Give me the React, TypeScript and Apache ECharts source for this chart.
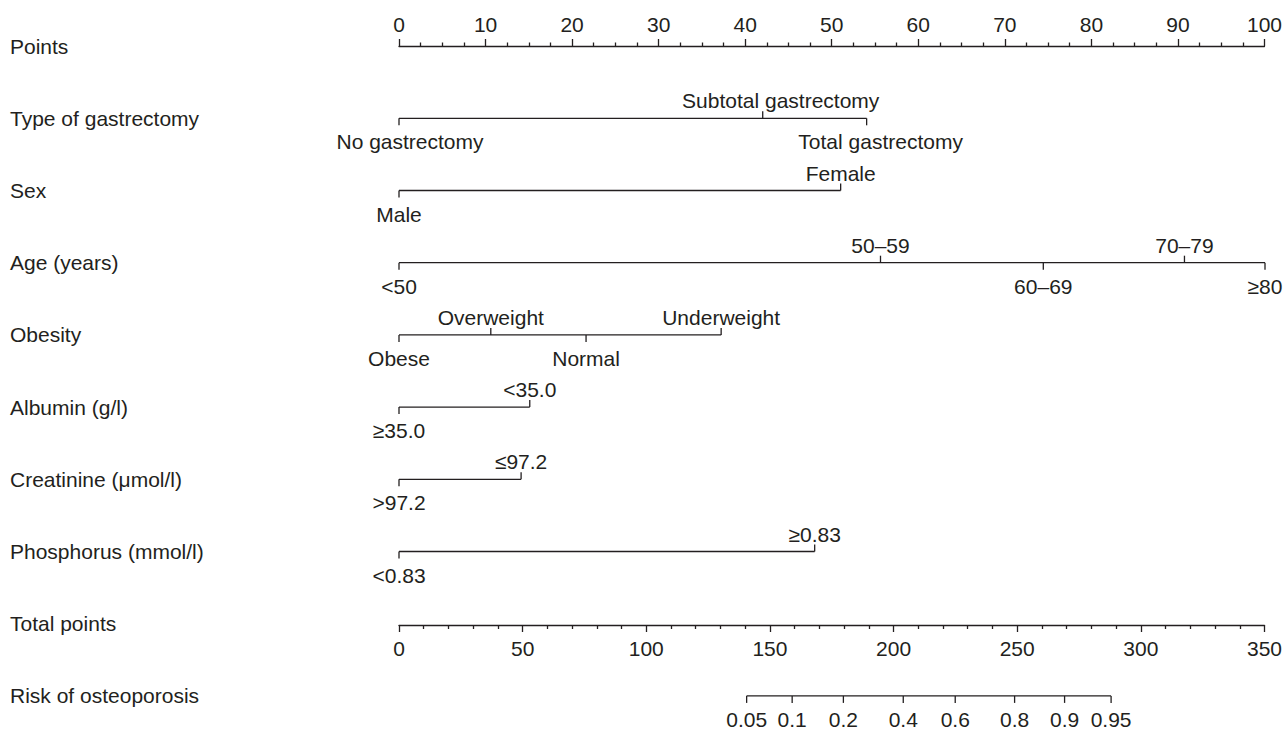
import React, { useEffect, useRef } from "react";
import * as echarts from "echarts";

// Row titles, top to bottom
const rowNames = [
  "Points",
  "Type of gastrectomy",
  "Sex",
  "Age (years)",
  "Obesity",
  "Albumin (g/l)",
  "Creatinine (μmol/l)",
  "Phosphorus (mmol/l)",
  "Total points",
  "Risk of osteoporosis",
];

// Predictor levels and the points each level contributes
const gastrectomyLevels = ["No gastrectomy", "Subtotal gastrectomy", "Total gastrectomy"];
const gastrectomyPoints = [0, 42, 54];
const sexLevels = ["Male", "Female"];
const sexPoints = [0, 51];
const ageLevels = ["<50", "50–59", "60–69", "70–79", "≥80"];
const agePoints = [0, 55.6, 74.4, 90.7, 100];
const obesityLevels = ["Obese", "Overweight", "Normal", "Underweight"];
const obesityPoints = [0, 10.6, 21.6, 37.2];
const albuminLevels = ["≥35.0", "<35.0"];
const albuminPoints = [0, 15.1];
const creatinineLevels = [">97.2", "≤97.2"];
const creatininePoints = [0, 14.1];
const phosphorusLevels = ["<0.83", "≥0.83"];
const phosphorusPoints = [0, 48.0];

// Risk scale: probability labels and where they sit on the total-points scale
const riskLabels = ["0.05", "0.1", "0.2", "0.4", "0.6", "0.8", "0.9", "0.95"];
const riskTotalPoints = [140.5, 158.9, 179.6, 203.8, 224.8, 248.8, 269.0, 287.8];

// Axis ranges
const pointsMax = 100;
const totalPointsMax = 350;

const FONT = '"Liberation Sans", Arial, Helvetica, sans-serif';
const INK = "#231f20";
const FONT_SIZE = 21;
const TICK = 7;

// horizontal nudges for a few level labels (px)
const labelNudge: Record<string, number> = {
  "No gastrectomy": 11,
  "Subtotal gastrectomy": 18,
  "Total gastrectomy": 14,
};

const predictors: { row: number; levels: string[]; pts: number[] }[] = [
  { row: 1, levels: gastrectomyLevels, pts: gastrectomyPoints },
  { row: 2, levels: sexLevels, pts: sexPoints },
  { row: 3, levels: ageLevels, pts: agePoints },
  { row: 4, levels: obesityLevels, pts: obesityPoints },
  { row: 5, levels: albuminLevels, pts: albuminPoints },
  { row: 6, levels: creatinineLevels, pts: creatininePoints },
  { row: 7, levels: phosphorusLevels, pts: phosphorusPoints },
];

type LevelItem = { value: [number, number, number]; label: string };

// labels alternate below / above along each row, starting below
const levelItems: LevelItem[] = [];
const segmentItems: [number, number, number][] = [];
predictors.forEach((p) => {
  const order = p.pts.map((v, i) => i).sort((a, b) => p.pts[a] - p.pts[b]);
  order.forEach((idx, k) => {
    levelItems.push({ value: [p.pts[idx], p.row, k % 2 === 0 ? -1 : 1], label: p.levels[idx] });
  });
  segmentItems.push([Math.min(...p.pts), Math.max(...p.pts), p.row]);
});

const riskItems: LevelItem[] = riskTotalPoints.map((v, i) => ({
  value: [v, 9, -1],
  label: riskLabels[i],
}));
const riskSegment: [number, number, number][] = [
  [Math.min(...riskTotalPoints), Math.max(...riskTotalPoints), 9],
];

function renderSegment(_params: any, api: any) {
  const a = api.coord([api.value(0), api.value(2)]);
  const b = api.coord([api.value(1), api.value(2)]);
  return {
    type: "line",
    shape: { x1: a[0], y1: a[1], x2: b[0], y2: b[1] },
    style: { stroke: INK, lineWidth: 1.3 },
  };
}

function makeLevelRenderer(items: LevelItem[]) {
  return (params: any, api: any) => {
    const [x, y] = api.coord([api.value(0), api.value(1)]);
    const side = api.value(2);
    const label = items[params.dataIndex].label;
    const dx = labelNudge[label] || 0;
    return {
      type: "group",
      children: [
        {
          type: "line",
          shape: { x1: x, y1: y, x2: x, y2: y - side * TICK },
          style: { stroke: INK, lineWidth: 1.3 },
        },
        {
          type: "text",
          x: x + dx,
          y: side > 0 ? y - 7 : y + 13,
          style: {
            text: label,
            fill: INK,
            fontSize: FONT_SIZE,
            fontFamily: FONT,
            align: "center",
            verticalAlign: side > 0 ? "bottom" : "top",
          },
        },
      ],
    };
  };
}

const axisText = { fontSize: FONT_SIZE, fontFamily: FONT, color: INK };
const axisLineStyle = { color: INK, width: 1.3 };

export default function App() {
  const ref = useRef<HTMLDivElement>(null);

  useEffect(() => {
    if (!ref.current) return;
    const chart = echarts.init(ref.current, null, { renderer: "svg" });
    chart.setOption({
      animation: false,
      backgroundColor: "#ffffff",
      grid: [
        { left: 399, right: 20, top: 10, height: 722 },
        { left: 399, right: 20, top: 46, height: 20 },
        { left: 399, right: 20, top: 605, height: 20 },
      ],
      xAxis: [
        { gridIndex: 0, type: "value", min: 0, max: pointsMax, show: false, position: "top" },
        { gridIndex: 0, type: "value", min: 0, max: totalPointsMax, show: false, position: "bottom" },
        {
          gridIndex: 1,
          type: "value",
          position: "top",
          min: 0,
          max: pointsMax,
          interval: 10,
          axisLine: { show: true, onZero: false, lineStyle: axisLineStyle },
          axisTick: { show: true, length: TICK, lineStyle: axisLineStyle },
          minorTick: { show: true, splitNumber: 4, length: 3.5, lineStyle: axisLineStyle },
          splitLine: { show: false },
          axisLabel: { ...axisText, margin: 11, showMinLabel: true, showMaxLabel: true },
        },
        {
          gridIndex: 2,
          type: "value",
          position: "bottom",
          min: 0,
          max: totalPointsMax,
          interval: 50,
          axisLine: { show: true, onZero: false, lineStyle: axisLineStyle },
          axisTick: { show: true, length: TICK, lineStyle: axisLineStyle },
          minorTick: { show: true, splitNumber: 5, length: 4, lineStyle: axisLineStyle },
          splitLine: { show: false },
          axisLabel: { ...axisText, margin: 13, showMinLabel: true, showMaxLabel: true },
        },
      ],
      yAxis: [
        {
          gridIndex: 0,
          type: "category",
          inverse: true,
          data: rowNames,
          axisLine: { show: false },
          axisTick: { show: false },
          splitLine: { show: false },
          axisLabel: { ...axisText, align: "left", margin: 389, interval: 0 },
        },
        { gridIndex: 1, type: "value", show: false },
        { gridIndex: 2, type: "value", show: false },
      ],
      series: [
        {
          type: "custom",
          name: "segments",
          xAxisIndex: 0,
          yAxisIndex: 0,
          renderItem: renderSegment,
          data: segmentItems,
          silent: true,
        },
        {
          type: "custom",
          name: "levels",
          xAxisIndex: 0,
          yAxisIndex: 0,
          renderItem: makeLevelRenderer(levelItems),
          data: levelItems.map((d) => d.value),
          silent: true,
        },
        {
          type: "custom",
          name: "riskLine",
          xAxisIndex: 1,
          yAxisIndex: 0,
          renderItem: renderSegment,
          data: riskSegment,
          silent: true,
        },
        {
          type: "custom",
          name: "risk",
          xAxisIndex: 1,
          yAxisIndex: 0,
          renderItem: makeLevelRenderer(riskItems),
          data: riskItems.map((d) => d.value),
          silent: true,
        },
      ],
    });
    return () => chart.dispose();
  }, []);

  return (
    <div
      ref={ref}
      style={{ position: "fixed", left: 0, top: 0, width: 1285, height: 737, background: "#fff" }}
    />
  );
}
